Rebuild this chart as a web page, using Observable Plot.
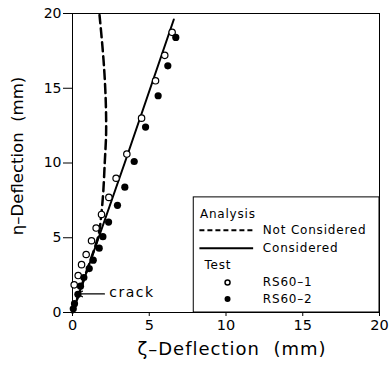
<!DOCTYPE html>
<html>
<head>
<meta charset="utf-8">
<script src="https://cdn.jsdelivr.net/npm/d3@7"></script>
<script src="https://cdn.jsdelivr.net/npm/@observablehq/plot@0.6"></script>
<style>
  html, body { margin: 0; padding: 0; background: #fff; }
  svg { font-family: "DejaVu Sans", sans-serif; }
</style>
</head>
<body>
<div id="chart"></div>
<script>
// Test data: RS60-1 (open circles)
const rs1X = [0.11, 0.37, 0.59, 0.89, 1.24, 1.54, 1.89, 2.37, 2.84, 3.54, 4.50, 5.41, 6.01, 6.49];
const rs1Y = [1.85, 2.47, 3.20, 3.88, 4.80, 5.65, 6.56, 7.70, 8.98, 10.6, 13.0, 15.5, 17.2, 18.74];
// Test data: RS60-2 (filled circles)
const rs2X = [0.05, 0.13, 0.35, 0.52, 0.74, 1.09, 1.35, 1.74, 1.98, 2.35, 2.93, 3.41, 4.02, 4.76, 5.58, 6.21, 6.73];
const rs2Y = [0.25, 0.59, 1.22, 1.76, 2.34, 2.94, 3.50, 4.30, 5.07, 6.05, 7.17, 8.38, 10.1, 12.4, 14.5, 16.5, 18.4];
// Analysis: considered (solid)
const consX = [0, 3.4, 6.6];
const consY = [0, 10, 19.6];
// Analysis: not considered (dashed)
const notX = [0, 0.9, 1.7, 1.87, 2.0, 2.1, 2.19, 2.17, 2.08, 1.95, 1.76];
const notY = [0, 2.7, 5.2, 6.5, 8.0, 10, 12, 14, 16, 17.8, 19.9];
// Axis ticks
const ticks = [0, 5, 10, 15, 20];
// Titles and labels
const xTitle = "\u03B6\u2013Deflection  (mm)";
const yTitle = "\u03B7\u2013Deflection  (mm)";
const legendTexts = ["Analysis", "Not Considered", "Considered", "Test", "RS60\u20131", "RS60\u20132"];
// Crack annotation
const crackY = 1.24;
const crackTip = 0.33, crackTail = 2.08, crackText = 2.4;
// Legend layout (data units)
const legBox = {x1: 7.9, x2: 20, y1: 0, y2: 7.7};

const zip = (xs, ys) => xs.map((x, i) => ({x, y: ys[i]}));
const lfs = 12;

const chart = Plot.plot({
  width: 389,
  height: 368,
  marginLeft: 72,
  marginRight: 10,
  marginTop: 13,
  marginBottom: 56,
  style: {fontFamily: "DejaVu Sans, sans-serif", background: "#fff", color: "#000"},
  x: {domain: [0, 20], ticks: ticks},
  y: {domain: [0, 20], ticks: ticks},
  marks: [
    Plot.axisX({ticks, tickSize: 4, tickPadding: 3, fontSize: 14.5, label: null, tickFormat: d => String(d)}),
    Plot.axisY({ticks, tickSize: 9, tickPadding: 2, fontSize: 14, label: null, tickFormat: d => String(d)}),
    Plot.frame({stroke: "#000", strokeWidth: 1}),
    Plot.rect([legBox], {x1: "x1", x2: "x2", y1: "y1", y2: "y2", fill: "white", stroke: "#000", strokeWidth: 1}),
    Plot.line(zip(notX, notY), {x: "x", y: "y", stroke: "#000", strokeWidth: 2.5, strokeDasharray: "9,5", curve: "catmull-rom"}),
    Plot.line(zip(consX, consY), {x: "x", y: "y", stroke: "#000", strokeWidth: 2}),
    Plot.dot(zip(rs1X, rs1Y), {x: "x", y: "y", r: 3.2, stroke: "#000", strokeWidth: 1.2, fill: "white"}),
    Plot.dot(zip(rs2X, rs2Y), {x: "x", y: "y", r: 3.6, fill: "#000", stroke: "none"}),
    Plot.arrow([{x1: crackTail, x2: crackTip, y: crackY}], {x1: "x1", x2: "x2", y1: "y", y2: "y", stroke: "#000", strokeWidth: 1.2, headLength: 7}),
    Plot.text(["crack"], {x: crackText, y: crackY, text: d => d, textAnchor: "start", fontSize: 14, dy: -1}),
    // Legend
    Plot.text([legendTexts[0]], {x: 8.3, y: 6.6, text: d => d, textAnchor: "start", fontSize: lfs}),
    Plot.ruleY([5.5], {x1: 8.3, x2: 11.8, stroke: "#000", strokeWidth: 2, strokeDasharray: "5,3"}),
    Plot.text([legendTexts[1]], {x: 12.4, y: 5.5, text: d => d, textAnchor: "start", fontSize: lfs}),
    Plot.ruleY([4.3], {x1: 8.3, x2: 11.8, stroke: "#000", strokeWidth: 2}),
    Plot.text([legendTexts[2]], {x: 12.4, y: 4.3, text: d => d, textAnchor: "start", fontSize: lfs}),
    Plot.text([legendTexts[3]], {x: 8.6, y: 3.15, text: d => d, textAnchor: "start", fontSize: lfs}),
    Plot.dot([0], {x: 10.1, y: 2.0, r: 2.5, stroke: "#000", fill: "white"}),
    Plot.text([legendTexts[4]], {x: 12.4, y: 2.0, text: d => d, textAnchor: "start", fontSize: lfs}),
    Plot.dot([0], {x: 10.1, y: 0.9, r: 3, fill: "#000"}),
    Plot.text([legendTexts[5]], {x: 12.4, y: 0.9, text: d => d, textAnchor: "start", fontSize: lfs}),
    // Axis titles
    Plot.text([xTitle], {frameAnchor: "bottom", textAnchor: "middle", text: d => d, dy: 42, fontSize: 18, dx: 6}),
    Plot.text([yTitle], {frameAnchor: "left", textAnchor: "middle", text: d => d, dx: -55, dy: -7, rotate: -90, fontSize: 16.5})
  ]
});
// Letter spacing to mimic the wide original lettering
const spacing = new Map([[xTitle, "1px"], ["crack", "1.5px"], ...legendTexts.map(t => [t, "0.8px"])]);
d3.select(chart).selectAll("text").each(function () {
  const s = spacing.get(this.textContent);
  if (s) this.style.letterSpacing = s;
});
document.getElementById("chart").appendChild(chart);
</script>
</body>
</html>
